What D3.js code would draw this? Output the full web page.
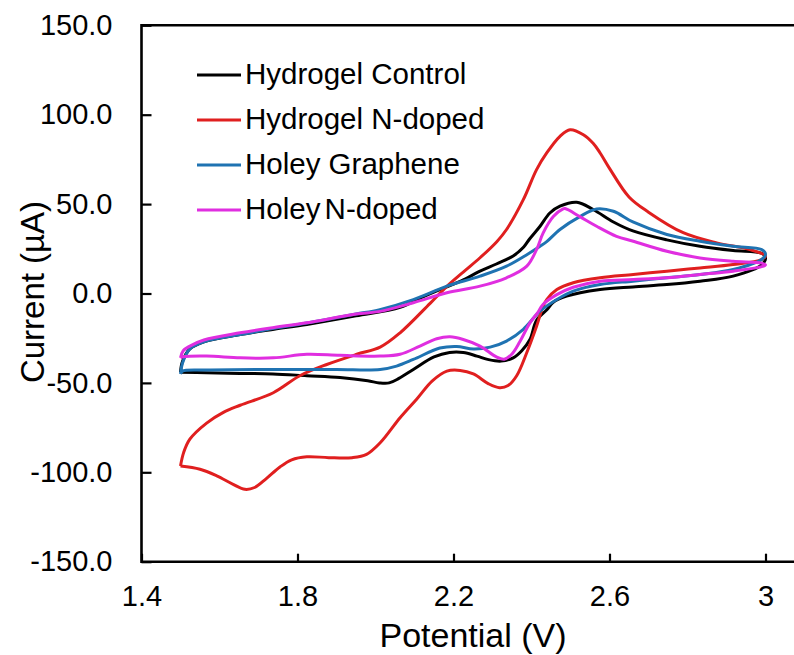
<!DOCTYPE html>
<html>
<head>
<meta charset="utf-8">
<script src="https://cdn.jsdelivr.net/npm/d3@7"></script>
<style>
  html, body { margin: 0; padding: 0; background: #fff; }
  svg { display: block; }
  text { font-family: Arial, "Liberation Sans", sans-serif; fill: #000; }
</style>
</head>
<body>
<svg id="chart" width="794" height="655"></svg>
<script>
// Cyclic voltammograms: [potential (V), current (µA)], traced from the
// 1.5 V turning point along the anodic sweep to 3.0 V and back.
const seriesNames = ["Hydrogel Control", "Hydrogel N-doped", "Holey Graphene", "Holey N-doped"];
const seriesColors = ["#000000", "#e01f1f", "#1f73b2", "#e02ee0"];

const hydrogelControl = [
  [1.5,-44],[1.505,-38],[1.524,-31],[1.56,-27],[1.653,-23],[1.74,-20],[1.824,-17.3],[1.95,-12.5],
  [2.063,-7.8],[2.12,-2],[2.165,2.2],[2.22,7],[2.268,12.5],[2.31,16.5],[2.353,21],[2.38,26],
  [2.395,30.5],[2.422,37.6],[2.447,45],[2.473,48.8],[2.516,51],[2.558,47],[2.61,40],[2.66,35],
  [2.747,30],[2.832,26.4],[2.917,24],[2.99,22.5],[3.0,20],
  [2.99,16],[2.917,9.7],[2.832,6.9],[2.747,5],[2.66,3.7],[2.576,2.2],[2.49,-1.5],[2.455,-5],
  [2.44,-9],[2.413,-15],[2.396,-25.7],[2.375,-32],[2.353,-36],[2.322,-37.8],[2.29,-37],[2.26,-35],
  [2.225,-33],[2.19,-33],[2.15,-35.5],[2.097,-42.5],[2.06,-47.5],[2.035,-50],[2.01,-50],
  [1.98,-48.8],[1.909,-47],[1.824,-46],[1.737,-45],[1.653,-44.7],[1.567,-44.3],[1.5,-44]
];

const hydrogelNDoped = [
  [1.5,-96.5],[1.508,-89],[1.524,-81.5],[1.567,-72.5],[1.61,-66.5],[1.653,-62.5],[1.738,-55.5],
  [1.806,-46],[1.875,-39.7],[1.952,-34],[2.012,-30],[2.063,-22],[2.14,-5.5],[2.183,4],[2.225,12],
  [2.268,20],[2.311,29],[2.336,35.8],[2.379,52.5],[2.413,69.3],[2.439,78.6],[2.473,87.9],
  [2.499,91.6],[2.533,88.8],[2.558,84],[2.576,78.6],[2.6,70],[2.65,54],[2.7,45.5],[2.789,34],
  [2.875,28.3],[2.96,24.6],[3.0,21],
  [2.99,19],[2.917,16.2],[2.832,14.3],[2.747,12.5],[2.661,10.6],[2.576,8.8],[2.507,6],[2.465,2.2],
  [2.439,-3.4],[2.43,-7],[2.413,-18.3],[2.388,-33],[2.362,-46],[2.34,-51.5],[2.318,-52.7],
  [2.29,-50.5],[2.251,-45],[2.217,-43],[2.183,-43.4],[2.145,-49],[2.106,-59],[2.063,-69.5],
  [2.012,-83.5],[1.977,-90],[1.94,-91.8],[1.88,-91.8],[1.824,-91.3],[1.785,-93],[1.755,-97],
  [1.72,-103.5],[1.69,-108.5],[1.665,-109.5],[1.635,-106.7],[1.593,-102],[1.55,-98.3],[1.5,-96.5]
];

const holeyGraphene = [
  [1.5,-45],[1.505,-39],[1.524,-31],[1.56,-27],[1.653,-23],[1.74,-19.5],[1.824,-16.5],[1.95,-11.5],
  [2.011,-9],[2.097,-3.4],[2.183,4.1],[2.268,9.7],[2.336,15.3],[2.39,22],[2.422,26.4],[2.439,29],
  [2.473,35.8],[2.524,43],[2.567,47.3],[2.61,46],[2.66,40],[2.747,33],[2.832,29.2],[2.917,26.4],
  [2.99,24.6],[3.0,22],
  [2.99,19],[2.917,13.4],[2.832,10.6],[2.747,8.8],[2.66,6.9],[2.576,5],[2.507,1.3],[2.465,-3.4],
  [2.422,-9.9],[2.379,-20],[2.336,-26.6],[2.294,-30],[2.251,-31],[2.208,-29.6],[2.165,-30.5],
  [2.097,-36.9],[2.054,-40.6],[2.012,-42.5],[1.9,-42.5],[1.74,-42.5],[1.567,-42.8],[1.505,-43.4],
  [1.5,-45]
];

const holeyNDoped = [
  [1.5,-36],[1.507,-32],[1.524,-29.4],[1.56,-26],[1.653,-22],[1.74,-19],[1.824,-16.4],[1.95,-11.5],
  [2.012,-10],[2.097,-5.2],[2.183,0.4],[2.268,4.1],[2.336,8.8],[2.388,15.3],[2.413,24.6],
  [2.43,33.9],[2.456,43],[2.481,47.3],[2.486,47.5],[2.524,43],[2.567,37.6],[2.618,32],
  [2.661,29.2],[2.747,23.6],[2.832,19.9],[2.917,18],[2.99,17],[3.0,16],
  [2.99,15],[2.917,12.5],[2.832,10.6],[2.747,8.8],[2.661,7.8],[2.576,6.9],[2.507,3.5],[2.465,-0.6],
  [2.43,-6],[2.415,-11],[2.396,-16.4],[2.37,-27],[2.35,-33.8],[2.33,-36.8],[2.31,-35.5],
  [2.268,-29.4],[2.225,-25.7],[2.191,-24.2],[2.157,-25.3],[2.114,-29.4],[2.063,-34],[2.012,-35],
  [1.909,-34.6],[1.824,-34],[1.738,-36],[1.653,-36],[1.567,-35],[1.507,-35.4],[1.5,-36]
];

const seriesData = [hydrogelControl, hydrogelNDoped, holeyGraphene, holeyNDoped];

const xTicks = [1.4, 1.8, 2.2, 2.6, 3.0];
const xTickLabels = ["1.4", "1.8", "2.2", "2.6", "3"];
const yTicks = [-150, -100, -50, 0, 50, 100, 150];
const yTickLabels = ["-150.0", "-100.0", "-50.0", "0.0", "50.0", "100.0", "150.0"];

const svg = d3.select("#chart");
const plot = { left: 141.5, top: 25.3, bottom: 561.7 };

// The plotted window runs past the right edge of the page (to 3.4 V).
const x = d3.scaleLinear().domain([1.4, 3.4]).range([plot.left, plot.left + 780]);
const y = d3.scaleLinear().domain([-150, 150]).range([plot.bottom, plot.top]);

// Axes with inward ticks
const xAxis = d3.axisBottom(x)
  .tickValues(xTicks)
  .tickFormat((d, i) => xTickLabels[i])
  .tickSizeInner(-8).tickSizeOuter(0).tickPadding(24);
const yAxis = d3.axisLeft(y)
  .tickValues(yTicks)
  .tickFormat((d, i) => yTickLabels[i])
  .tickSizeInner(-10).tickSizeOuter(0).tickPadding(29);

const gx = svg.append("g").attr("transform", `translate(0,${plot.bottom})`).call(xAxis);
const gy = svg.append("g").attr("transform", `translate(${plot.left},0)`).call(yAxis);

[gx, gy].forEach(g => {
  g.select(".domain").remove();
  g.selectAll(".tick line").attr("stroke", "#000").attr("stroke-width", 2.2);
  g.selectAll(".tick text")
    .attr("font-size", 29)
    .attr("font-family", "Arial, 'Liberation Sans', sans-serif")
    .attr("fill", "#000");
});

// Plot frame (left, top and bottom edges)
svg.append("path")
  .attr("d", `M794,${plot.top} H${plot.left} V${plot.bottom} H794`)
  .attr("fill", "none").attr("stroke", "#000").attr("stroke-width", 2.6);

// Curves
const line = d3.line()
  .x(d => x(d[0]))
  .y(d => y(d[1]))
  .curve(d3.curveCatmullRom.alpha(0.5));

svg.append("g").selectAll("path.cv")
  .data(seriesData)
  .join("path")
  .attr("class", "cv")
  .attr("d", line)
  .attr("fill", "none")
  .attr("stroke", (d, i) => seriesColors[i])
  .attr("stroke-width", 3)
  .attr("stroke-linejoin", "round");

// Legend
const legend = svg.append("g");
const rowY = [75, 120, 165, 210];
seriesNames.forEach((name, i) => {
  legend.append("line")
    .attr("x1", 197).attr("x2", 241)
    .attr("y1", rowY[i]).attr("y2", rowY[i])
    .attr("stroke", seriesColors[i]).attr("stroke-width", 3);
  legend.append("text")
    .attr("x", 245).attr("y", rowY[i] + 9)
    .attr("font-size", 29.5)
    .attr("word-spacing", i === 3 ? -4 : 0)
    .text(name);
});

// Axis titles
svg.append("text")
  .attr("x", 473).attr("y", 647)
  .attr("text-anchor", "middle")
  .attr("font-size", 34)
  .text("Potential (V)");

svg.append("text")
  .attr("transform", "translate(44,292) rotate(-90)")
  .attr("text-anchor", "middle")
  .attr("font-size", 33)
  .text("Current (µA)");
</script>
</body>
</html>
